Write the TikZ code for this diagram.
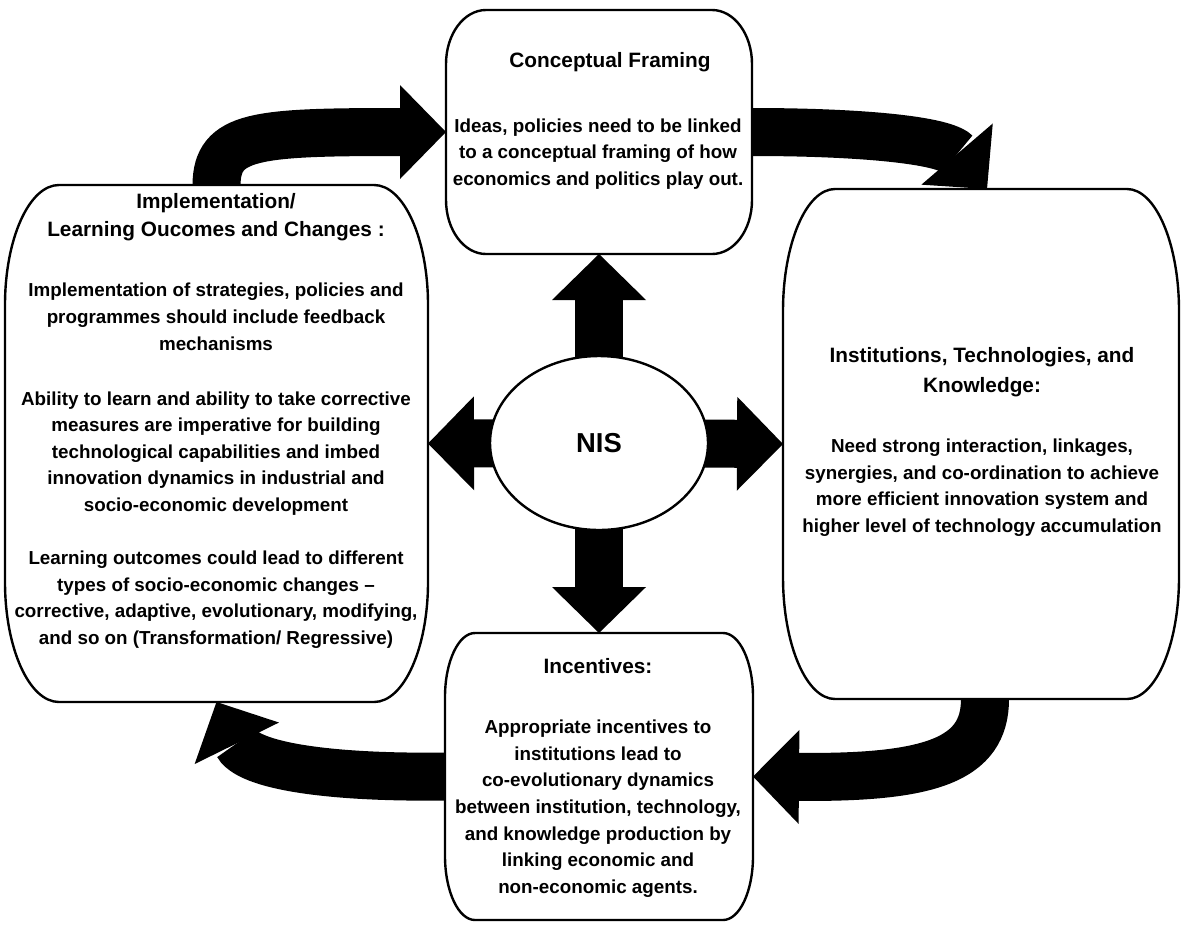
\documentclass[tikz,border=0pt]{standalone}
\usepackage{fontspec}
\setmainfont{Liberation Sans}
\usetikzlibrary{arrows.meta, positioning, shapes.geometric, backgrounds}

\newcommand{\nisHead}{\fontsize{10.4pt}{13.3pt}\selectfont}
\newcommand{\nisBody}{\fontsize{9.4pt}{13.3pt}\selectfont}

\tikzset{
  boxline/.style={line width=1.2pt, line join=round},
  panel/.style={rectangle, draw=none, inner sep=0pt, outer sep=0pt},
  paneltext/.style={align=center, inner sep=0pt, font=\nisBody\bfseries},
  fatarrow/.style={line width=24pt, -{Triangle[width=47pt, length=23pt, line width=0pt]}},
}

\begin{document}
\begin{tikzpicture}[x=0.5pt, y=-0.5pt]
    \useasboundingbox (0,0) rectangle (1181,927);

    % the four panels
    \node[panel, minimum width=153pt, minimum height=122pt] (concept) at (599,132) {};
    \node[panel, minimum width=211.5pt, minimum height=258.5pt] (learn) at (216.5,443.5) {};
    \node[panel, minimum width=198pt, minimum height=255pt] (inst) at (981,444) {};
    \node[panel, minimum width=154pt, minimum height=143.5pt] (incent) at (599,776.5) {};

    \foreach \n/\rx/\ry in {concept/20pt/27pt, learn/27pt/60pt, inst/26pt/61pt, incent/15pt/32pt}
        \draw[boxline] ([xshift=\rx]\n.north west) -- ([xshift=-\rx]\n.north east)
            arc[start angle=90, end angle=0, x radius=\rx, y radius=\ry]
            -- ([yshift=\ry]\n.south east)
            arc[start angle=0, end angle=-90, x radius=\rx, y radius=\ry]
            -- ([xshift=\rx]\n.south west)
            arc[start angle=270, end angle=180, x radius=\rx, y radius=\ry]
            -- ([yshift=-\ry]\n.north west)
            arc[start angle=180, end angle=90, x radius=\rx, y radius=\ry] -- cycle;

    \node[paneltext] (conceptText) at (598,121) {\nisHead\hspace*{12pt}Conceptual Framing\\[19pt]
        Ideas, policies need to be linked\\to a conceptual framing of how\\economics and politics play out.};
    \node[paneltext] (learnText) at (216,421) {\nisHead Implementation/\\[0.7pt]\nisHead Learning Oucomes and Changes :\\[16.7pt]
        Implementation of strategies, policies and\\programmes should include feedback\\mechanisms\\[14.2pt]
        Ability to learn and ability to take corrective\\measures are imperative for building\\technological capabilities and imbed\\innovation dynamics in industrial and\\socio-economic development\\[13.2pt]
        Learning outcomes could lead to different\\types of socio-economic changes \textendash\\corrective, adaptive, evolutionary, modifying,\\and so on (Transformation/ Regressive)};
    \node[paneltext] (instText) at (982,442) {\nisHead Institutions, Technologies, and\\[1.7pt]\nisHead Knowledge:\\[16.7pt]
        Need strong interaction, linkages,\\synergies, and co-ordination to achieve\\more efficient innovation system and\\higher level of technology accumulation};
    \node[paneltext] (incentText) at (598,778) {\nisHead Incentives:\\[16.7pt]
        Appropriate incentives to\\institutions lead to\\co-evolutionary dynamics\\between institution, technology,\\and knowledge production by\\linking economic and\\non-economic agents.};

    % centre
    \node[ellipse, draw, line width=1.2pt, fill=white, minimum width=109pt, minimum height=87pt, inner sep=0pt,
        font=\fontsize{13.7pt}{16pt}\selectfont\bfseries] (nis) at (599,443) {NIS};

    \begin{scope}[on background layer]
        \draw[fatarrow] (nis.center) -- (concept.south);
        \draw[fatarrow] (nis.center) -- (incent.north);
        \draw[fatarrow] (nis.center) -- (learn.east);
        \draw[fatarrow] (nis.center) -- (inst.west);
    \end{scope}

    % the cycle
    \draw[fatarrow] (learn.north) .. controls (217,135) and (255,132) .. (concept.west);
    \draw[fatarrow] (concept.east) .. controls (860,132) and (945,140) .. ([xshift=3pt]inst.north);
    \draw[fatarrow] ([xshift=2pt]inst.south) .. controls (985,760) and (930,778) .. (incent.east);
    \draw[fatarrow] (incent.west) .. controls (330,778) and (248,766) .. (learn.south);
\end{tikzpicture}
\end{document}
